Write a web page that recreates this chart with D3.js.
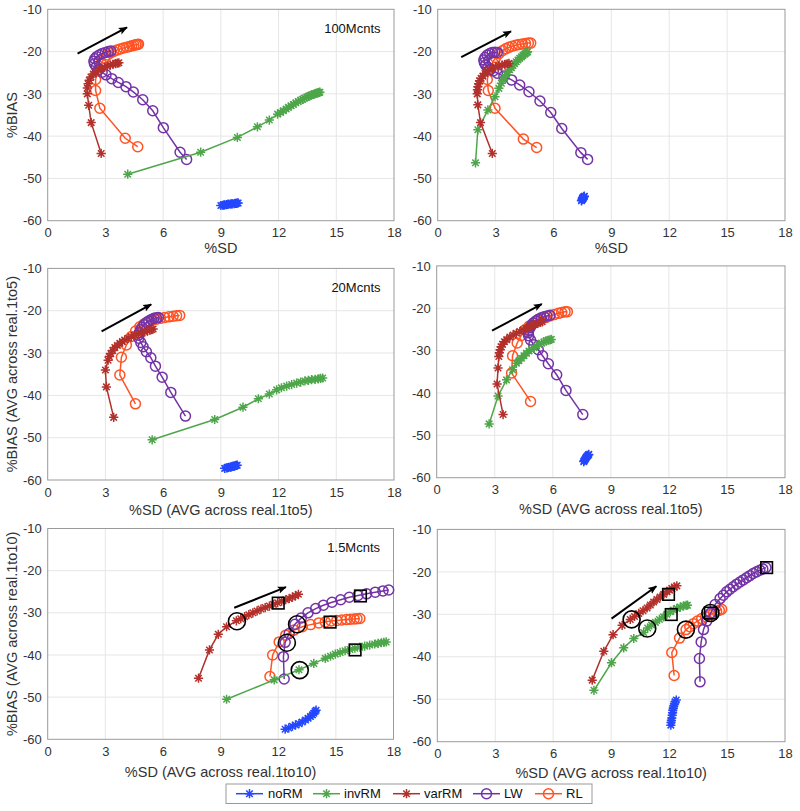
<!DOCTYPE html>
<html><head><meta charset="utf-8">
<script src="https://cdn.jsdelivr.net/npm/d3@7"></script>
<style>
body{margin:0;background:#fff}
text{font-family:"Liberation Sans",Arial,Helvetica,sans-serif}
</style>
</head><body>
<svg id="c" width="800" height="811"></svg>
<script>
// ---------------- DATA ----------------
const xTicks = [0, 3, 6, 9, 12, 15, 18];
const yTicks = [-60, -50, -40, -30, -20, -10];
const seriesNames = ["noRM", "invRM", "varRM", "LW", "RL"];
const panelTags = ["100Mcnts", "", "20Mcnts", "", "1.5Mcnts", ""];
const xLabels = ["%SD", "%SD", "%SD (AVG across real.1to5)", "%SD (AVG across real.1to5)", "%SD (AVG across real.1to10)", "%SD (AVG across real.1to10)"];
const yLabels = ["%BIAS", "", "%BIAS (AVG across real.1to5)", "", "%BIAS (AVG across real.1to10)", ""];

// Panel 1 (100Mcnts, left)
const p1NoRM = [[9.0,-56.4],[9.1,-56.35],[9.15,-56.3],[9.2,-56.25],[9.3,-56.2],[9.35,-56.15],[9.4,-56.1],[9.5,-56.05],[9.55,-56.0],[9.6,-56.0],[9.7,-55.95],[9.75,-55.9],[9.8,-55.9],[9.85,-55.85],[9.9,-55.8]];
const p1InvRM = [[4.16,-49.0],[7.95,-43.8],[9.86,-40.3],[10.9,-37.8],[11.52,-36.2],[11.95,-34.8],[12.1,-34.4],[12.25,-34.0],[12.4,-33.6],[12.51,-33.2],[12.65,-32.8],[12.77,-32.5],[12.9,-32.1],[13.02,-31.8],[13.15,-31.5],[13.25,-31.3],[13.35,-31.0],[13.46,-30.8],[13.55,-30.6],[13.63,-30.4],[13.72,-30.25],[13.81,-30.1],[13.88,-30.0],[13.95,-29.9],[14.01,-29.8],[14.07,-29.7],[14.11,-29.65],[14.15,-29.6]];
const p1VarRM = [[2.78,-44.1],[2.26,-36.8],[2.13,-32.7],[2.06,-30.0],[2.06,-28.6],[2.1,-27.6],[2.16,-26.8],[2.25,-26.0],[2.37,-25.3],[2.5,-24.8],[2.65,-24.4],[2.8,-24.0],[2.95,-23.7],[3.1,-23.45],[3.25,-23.2],[3.4,-23.0],[3.52,-22.85],[3.62,-22.75],[3.7,-22.65]];
const p1LW = [[7.22,-45.5],[6.88,-43.8],[6.01,-38.0],[5.46,-34.0],[4.94,-31.4],[4.45,-29.55],[4.07,-28.3],[3.67,-27.3],[3.33,-26.4],[3.03,-25.5],[2.83,-24.9],[2.65,-24.3],[2.52,-23.6],[2.43,-22.9],[2.4,-22.3],[2.45,-21.7],[2.55,-21.2],[2.68,-20.8],[2.83,-20.45],[3.0,-20.2],[3.15,-20.0],[3.28,-19.85]];
const p1RL = [[4.68,-42.5],[4.03,-40.5],[2.71,-33.4],[2.49,-29.2],[2.49,-26.6],[2.6,-24.6],[2.78,-22.8],[2.95,-21.6],[3.1,-20.8],[3.27,-20.3],[3.43,-19.95],[3.6,-19.65],[3.77,-19.4],[3.94,-19.15],[4.11,-18.95],[4.25,-18.8],[4.37,-18.65],[4.48,-18.5],[4.58,-18.4],[4.66,-18.3],[4.72,-18.25]];
const p1Arrow = [[1.55,-20.5],[4.12,-14.3]];

// Panel 2 (100Mcnts, right)
const p2NoRM = [[7.45,-55.3],[7.47,-55.1],[7.5,-54.95],[7.52,-54.8],[7.5,-54.7],[7.55,-54.6],[7.53,-54.5],[7.57,-54.4],[7.58,-54.3],[7.6,-54.2]];
const p2InvRM = [[1.96,-46.3],[2.08,-38.5],[2.6,-33.8],[2.97,-30.7],[3.17,-28.7],[3.3,-27.5],[3.38,-26.7],[3.47,-26.1],[3.55,-25.5],[3.64,-24.9],[3.73,-24.3],[3.82,-23.8],[3.9,-23.3],[3.98,-22.85],[4.07,-22.4],[4.16,-22.0],[4.25,-21.6],[4.34,-21.25],[4.42,-20.9],[4.5,-20.65],[4.56,-20.4],[4.62,-20.2],[4.66,-20.05]];
const p2VarRM = [[2.83,-44.1],[2.22,-36.8],[2.08,-32.6],[2.05,-30.0],[2.06,-29.0],[2.08,-28.3],[2.12,-27.6],[2.17,-26.9],[2.25,-26.3],[2.34,-25.8],[2.45,-25.2],[2.57,-24.7],[2.7,-24.3],[2.83,-23.9],[3.0,-23.6],[3.17,-23.4],[3.33,-23.2],[3.49,-23.0],[3.6,-22.9],[3.69,-22.8]];
const p2LW = [[7.77,-45.5],[7.42,-43.9],[6.43,-38.2],[5.86,-34.4],[5.3,-31.7],[4.73,-29.5],[4.25,-27.9],[3.83,-26.7],[3.43,-25.8],[3.09,-25.1],[2.88,-24.6],[2.74,-24.2],[2.6,-23.7],[2.48,-23.2],[2.42,-22.6],[2.39,-22.0],[2.45,-21.4],[2.57,-20.8],[2.7,-20.45],[2.83,-20.2],[2.96,-20.15],[3.09,-20.2]];
const p2RL = [[5.13,-42.7],[4.44,-40.7],[2.97,-33.4],[2.62,-29.2],[2.57,-26.6],[2.68,-24.4],[2.85,-22.6],[3.0,-21.4],[3.17,-20.5],[3.35,-19.8],[3.52,-19.35],[3.69,-19.0],[3.86,-18.75],[4.04,-18.5],[4.2,-18.35],[4.39,-18.2],[4.55,-18.1],[4.7,-18.0],[4.82,-18.0]];
const p2Arrow = [[1.22,-21.3],[3.8,-15.2]];

// Panel 3 (20Mcnts, left)
const p3NoRM = [[9.2,-57.25],[9.3,-57.15],[9.35,-57.1],[9.4,-57.0],[9.5,-56.95],[9.55,-56.9],[9.6,-56.8],[9.65,-56.75],[9.7,-56.7],[9.75,-56.6],[9.8,-56.55],[9.85,-56.5]];
const p3InvRM = [[5.43,-50.5],[8.68,-45.7],[10.15,-42.8],[10.95,-40.8],[11.52,-39.7],[11.9,-38.7],[12.15,-38.2],[12.42,-37.8],[12.68,-37.45],[12.94,-37.1],[13.15,-36.85],[13.37,-36.6],[13.55,-36.45],[13.72,-36.3],[13.9,-36.2],[14.06,-36.1],[14.18,-36.0],[14.29,-35.9]];
const p3VarRM = [[3.43,-45.2],[3.05,-38.0],[3.0,-34.0],[3.14,-31.7],[3.2,-30.8],[3.28,-30.1],[3.38,-29.4],[3.49,-28.7],[3.62,-28.2],[3.75,-27.7],[3.88,-27.3],[4.0,-26.9],[4.18,-26.5],[4.35,-26.1],[4.52,-25.8],[4.7,-25.5],[4.88,-25.25],[5.05,-25.0],[5.18,-24.8],[5.3,-24.6],[5.4,-24.45],[5.48,-24.3]];
const p3LW = [[7.16,-44.9],[6.4,-39.3],[5.95,-35.7],[5.6,-33.1],[5.36,-31.1],[5.13,-29.7],[4.96,-28.5],[4.84,-27.5],[4.73,-26.5],[4.72,-25.8],[4.76,-25.2],[4.83,-24.5],[4.91,-23.9],[5.02,-23.3],[5.13,-22.8],[5.26,-22.4],[5.39,-22.05],[5.52,-21.8],[5.65,-21.65],[5.75,-21.6]];
const p3RL = [[4.56,-42.0],[3.75,-35.2],[3.83,-31.0],[4.09,-28.1],[4.35,-26.1],[4.57,-24.8],[4.79,-23.8],[5.0,-23.15],[5.22,-22.6],[5.43,-22.25],[5.65,-22.0],[5.86,-21.8],[6.08,-21.6],[6.3,-21.45],[6.52,-21.3],[6.7,-21.2],[6.86,-21.1]];
const p3Arrow = [[2.8,-24.9],[5.38,-18.5]];

// Panel 4 (20Mcnts, right)
const p4NoRM = [[7.6,-56.2],[7.62,-56.0],[7.65,-55.8],[7.68,-55.6],[7.7,-55.4],[7.73,-55.2],[7.76,-55.0],[7.8,-54.8],[7.83,-54.65],[7.86,-54.5]];
const p4InvRM = [[2.71,-47.3],[3.17,-40.7],[3.61,-36.9],[3.92,-34.5],[4.12,-33.0],[4.25,-32.4],[4.38,-31.8],[4.51,-31.2],[4.64,-30.6],[4.77,-30.1],[4.9,-29.7],[5.03,-29.3],[5.16,-28.9],[5.29,-28.55],[5.42,-28.2],[5.54,-27.95],[5.65,-27.7],[5.76,-27.55],[5.85,-27.45],[5.92,-27.35]];
const p4VarRM = [[3.43,-45.1],[3.12,-37.9],[3.17,-34.1],[3.21,-31.4],[3.24,-30.5],[3.28,-29.8],[3.33,-29.1],[3.4,-28.5],[3.5,-27.9],[3.62,-27.4],[3.78,-26.8],[3.95,-26.3],[4.12,-25.9],[4.3,-25.5],[4.47,-25.1],[4.65,-24.7],[4.82,-24.3],[4.95,-24.05],[5.08,-23.8],[5.22,-23.55],[5.34,-23.35],[5.45,-23.2]];
const p4LW = [[7.55,-45.1],[6.68,-39.4],[6.2,-35.7],[5.77,-33.1],[5.47,-31.2],[5.25,-29.8],[5.02,-28.6],[4.85,-27.5],[4.75,-26.5],[4.73,-25.8],[4.76,-25.2],[4.82,-24.6],[4.9,-24.0],[5.0,-23.5],[5.12,-23.0],[5.25,-22.6],[5.4,-22.25],[5.55,-22.0],[5.7,-21.8],[5.85,-21.65]];
const p4RL = [[4.85,-42.0],[3.87,-35.3],[3.92,-31.2],[4.16,-28.2],[4.36,-26.5],[4.56,-25.1],[4.78,-24.2],[4.99,-23.5],[5.2,-23.0],[5.42,-22.6],[5.63,-22.2],[5.85,-21.8],[6.07,-21.5],[6.29,-21.2],[6.46,-21.0],[6.63,-20.85],[6.75,-20.8]];
const p4Arrow = [[2.86,-25.3],[5.43,-19.0]];

// Panel 5 (1.5Mcnts, left)
const p5NoRM = [[12.36,-57.6],[12.55,-57.3],[12.74,-56.9],[12.9,-56.6],[13.08,-56.3],[13.25,-55.9],[13.42,-55.4],[13.55,-55.0],[13.68,-54.6],[13.78,-54.2],[13.85,-53.8],[13.92,-53.4],[13.97,-53.1]];
const p5InvRM = [[9.31,-50.5],[11.79,-45.9],[13.08,-43.5],[13.85,-42.0],[14.45,-40.8],[14.72,-40.3],[14.97,-39.8],[15.22,-39.4],[15.48,-39.0],[15.73,-38.7],[15.99,-38.4],[16.25,-38.15],[16.5,-37.9],[16.76,-37.65],[17.02,-37.4],[17.2,-37.25],[17.37,-37.1],[17.5,-37.0],[17.62,-36.9]];
const p5VarRM = [[7.85,-45.5],[8.42,-38.8],[8.88,-35.1],[9.31,-33.3],[9.82,-31.9],[10.05,-31.4],[10.25,-30.9],[10.47,-30.45],[10.68,-30.0],[10.9,-29.55],[11.1,-29.1],[11.32,-28.75],[11.54,-28.4],[11.75,-28.0],[11.97,-27.6],[12.18,-27.25],[12.39,-26.9],[12.57,-26.6],[12.74,-26.3],[12.9,-25.95],[13.05,-25.6]];
const p5LW = [[12.31,-45.7],[12.27,-40.4],[12.36,-37.0],[12.57,-34.9],[12.87,-32.7],[13.2,-31.2],[13.55,-30.0],[13.95,-29.0],[14.35,-28.2],[14.8,-27.5],[15.25,-26.9],[15.7,-26.3],[16.15,-25.9],[16.6,-25.5],[17.05,-25.1],[17.45,-24.8],[17.75,-24.6]];
const p5RL = [[11.57,-45.1],[11.71,-40.0],[12.05,-36.9],[12.39,-35.3],[12.82,-34.1],[13.25,-33.3],[13.68,-32.8],[14.11,-32.4],[14.45,-32.15],[14.75,-31.95],[15.05,-31.8],[15.3,-31.7],[15.55,-31.6],[15.75,-31.5],[15.95,-31.45],[16.1,-31.4],[16.25,-31.35]];
const p5Arrow = [[9.71,-28.8],[12.4,-23.9]];
const p5Squares = [[12.0,-27.7],[16.28,-26.0],[14.7,-32.2],[16.0,-38.8]];
const p5Circles = [[9.85,-32.0],[12.98,-32.7],[12.45,-37.1],[13.12,-43.6]];

// Panel 6 (1.5Mcnts, right)
const p6NoRM = [[12.09,-56.1],[12.1,-55.5],[12.12,-55.0],[12.14,-54.4],[12.16,-53.8],[12.18,-53.2],[12.19,-52.6],[12.22,-52.1],[12.24,-51.6],[12.28,-51.1],[12.31,-50.6],[12.37,-50.2]];
const p6InvRM = [[8.11,-47.9],[9.02,-41.4],[9.65,-37.9],[10.17,-35.7],[10.68,-34.3],[10.89,-33.2],[11.09,-32.5],[11.29,-31.9],[11.5,-31.2],[11.71,-30.6],[11.88,-30.0],[12.06,-29.4],[12.23,-29.0],[12.4,-28.6],[12.58,-28.3],[12.75,-28.0],[12.88,-27.9],[12.95,-27.85]];
const p6VarRM = [[8.02,-45.5],[8.62,-38.7],[9.1,-34.8],[9.57,-32.6],[9.99,-31.2],[10.21,-30.5],[10.43,-29.8],[10.65,-29.15],[10.86,-28.5],[11.03,-27.8],[11.2,-27.1],[11.37,-26.5],[11.54,-25.9],[11.72,-25.3],[11.89,-24.7],[12.02,-24.3],[12.14,-23.9],[12.27,-23.6],[12.4,-23.3]];
const p6LW = [[13.6,-45.9],[13.57,-40.4],[13.66,-36.5],[13.78,-33.6],[13.95,-31.6],[14.15,-29.7],[14.38,-27.7],[14.64,-26.3],[14.81,-25.5],[14.98,-24.7],[15.15,-24.1],[15.32,-23.5],[15.5,-22.9],[15.67,-22.4],[15.84,-21.9],[16.01,-21.4],[16.18,-20.9],[16.35,-20.4],[16.52,-20.0],[16.7,-19.6],[16.85,-19.3],[17.01,-19.0]];
const p6RL = [[12.26,-44.4],[12.14,-39.0],[12.54,-35.6],[12.88,-33.6],[13.07,-32.9],[13.26,-32.2],[13.47,-31.6],[13.69,-31.0],[13.9,-30.55],[14.12,-30.1],[14.3,-29.7],[14.46,-29.3],[14.6,-29.05],[14.72,-28.8]];
const p6Arrow = [[9.02,-31.0],[11.34,-23.4]];
const p6Squares = [[11.97,-25.3],[12.11,-30.05],[14.14,-29.7],[17.05,-19.0]];
const p6Circles = [[10.06,-31.2],[10.87,-33.35],[12.87,-33.6],[14.14,-29.7]];

// ---------------- BUILD ----------------
const panelData = [
  {series:{noRM:p1NoRM, invRM:p1InvRM, varRM:p1VarRM, LW:p1LW, RL:p1RL}, arrow:p1Arrow, squares:[], circles:[]},
  {series:{noRM:p2NoRM, invRM:p2InvRM, varRM:p2VarRM, LW:p2LW, RL:p2RL}, arrow:p2Arrow, squares:[], circles:[]},
  {series:{noRM:p3NoRM, invRM:p3InvRM, varRM:p3VarRM, LW:p3LW, RL:p3RL}, arrow:p3Arrow, squares:[], circles:[]},
  {series:{noRM:p4NoRM, invRM:p4InvRM, varRM:p4VarRM, LW:p4LW, RL:p4RL}, arrow:p4Arrow, squares:[], circles:[]},
  {series:{noRM:p5NoRM, invRM:p5InvRM, varRM:p5VarRM, LW:p5LW, RL:p5RL}, arrow:p5Arrow, squares:p5Squares, circles:p5Circles},
  {series:{noRM:p6NoRM, invRM:p6InvRM, varRM:p6VarRM, LW:p6LW, RL:p6RL}, arrow:p6Arrow, squares:p6Squares, circles:p6Circles}
];

const layout = [
  {l:47.7, r:394,   t:9.3,   b:220.7, xl:253},
  {l:437.7,r:785,   t:9.3,   b:220.7, xl:253},
  {l:47.7, r:394,   t:268.4, b:480,   xl:515},
  {l:436.7,r:785,   t:265.9, b:477.7, xl:514},
  {l:47.7, r:393.5, t:528.5, b:739.3, xl:777},
  {l:437.3,r:785,   t:529.4, b:741.7, xl:777.5}
];

const style = {
  noRM:  {color:"#2447ff", marker:"star"},
  invRM: {color:"#4ea64a", marker:"star"},
  varRM: {color:"#b2302b", marker:"star"},
  LW:    {color:"#7333a6", marker:"circle"},
  RL:    {color:"#ff5324", marker:"circle"}
};
const drawOrder = ["RL","LW","noRM","invRM","varRM"];

const svg = d3.select("#c");
svg.append("rect").attr("width",800).attr("height",811).attr("fill","#fff");

const defs = svg.append("defs");
defs.append("marker").attr("id","ah").attr("viewBox","0 0 10 10")
  .attr("refX",9).attr("refY",5).attr("markerWidth",4.5).attr("markerHeight",4.5)
  .attr("orient","auto").attr("markerUnits","strokeWidth")
  .append("path").attr("d","M0,1 L10,5 L0,9 L2,5 z").attr("fill","#000");

const starPath = "M-4.6,0H4.6M0,-4.6V4.6M-3.25,-3.25L3.25,3.25M-3.25,3.25L3.25,-3.25";

function drawMarker(g, kind, color, x, y) {
  if (kind === "star") {
    g.append("path").attr("d", starPath).attr("transform", `translate(${x},${y})`)
      .attr("stroke", color).attr("stroke-width", 1.5).attr("fill", "none");
  } else {
    g.append("circle").attr("cx", x).attr("cy", y).attr("r", 5)
      .attr("stroke", color).attr("stroke-width", 1.5).attr("fill", "none");
  }
}

panelData.forEach((pd, i) => {
  const L = layout[i];
  const x = d3.scaleLinear().domain([0, 18]).range([L.l, L.r]);
  const y = d3.scaleLinear().domain([-60, -10]).range([L.b, L.t]);
  const g = svg.append("g");

  // grid
  g.selectAll(".gx").data(xTicks.slice(1, -1)).enter().append("line")
    .attr("x1", d => x(d)).attr("x2", d => x(d)).attr("y1", L.t).attr("y2", L.b)
    .attr("stroke", "#e6e6e6").attr("stroke-width", 1);
  g.selectAll(".gy").data(yTicks.slice(1, -1)).enter().append("line")
    .attr("y1", d => y(d)).attr("y2", d => y(d)).attr("x1", L.l).attr("x2", L.r)
    .attr("stroke", "#e6e6e6").attr("stroke-width", 1);

  // axes via d3
  const ax = g.append("g").attr("transform", `translate(0,${L.b})`)
    .call(d3.axisBottom(x).tickValues(xTicks).tickSize(0).tickPadding(7).tickFormat(d3.format("d")));
  const ay = g.append("g").attr("transform", `translate(${L.l},0)`)
    .call(d3.axisLeft(y).tickValues(yTicks).tickSize(0).tickPadding(6).tickFormat(d => d));
  [ax, ay].forEach(a => {
    a.select(".domain").remove();
    a.selectAll("text").attr("font-size", 13).attr("fill", "#333")
      .attr("font-family", '"Liberation Sans", Arial, sans-serif');
  });
  ax.selectAll("text").attr("dy", null).attr("y", 16.8);

  // box
  g.append("rect").attr("x", L.l).attr("y", L.t).attr("width", L.r - L.l).attr("height", L.b - L.t)
    .attr("fill", "none").attr("stroke", "#9a9a9a").attr("stroke-width", 1);

  // labels
  g.append("text").attr("x", (L.l + L.r) / 2).attr("y", L.xl).attr("text-anchor", "middle")
    .attr("font-size", 14.5).attr("fill", "#333").text(xLabels[i]);
  if (yLabels[i]) {
    g.append("text").attr("transform", `translate(17,${(L.t + L.b) / 2}) rotate(-90)`)
      .attr("text-anchor", "middle").attr("font-size", 14.5).attr("fill", "#333").text(yLabels[i]);
  }
  if (panelTags[i]) {
    g.append("text").attr("x", x(17.3)).attr("y", y(-15.6)).attr("text-anchor", "end")
      .attr("font-size", 13).attr("fill", "#111").text(panelTags[i]);
  }

  // series
  const line = d3.line().x(d => x(d[0])).y(d => y(d[1]));
  drawOrder.forEach(name => {
    const data = pd.series[name];
    const st = style[name];
    const sg = g.append("g");
    sg.append("path").attr("d", line(data)).attr("fill", "none")
      .attr("stroke", st.color).attr("stroke-width", 1.5);
    data.forEach(d => drawMarker(sg, st.marker, st.color, x(d[0]), y(d[1])));
  });

  // annotations
  pd.circles.forEach(d => g.append("circle").attr("cx", x(d[0])).attr("cy", y(d[1])).attr("r", 8.5)
    .attr("fill", "none").attr("stroke", "#000").attr("stroke-width", 1.6));
  pd.squares.forEach(d => g.append("rect").attr("x", x(d[0]) - 5.8).attr("y", y(d[1]) - 5.8)
    .attr("width", 11.6).attr("height", 11.6)
    .attr("fill", "none").attr("stroke", "#000").attr("stroke-width", 1.6));
  g.append("line").attr("x1", x(pd.arrow[0][0])).attr("y1", y(pd.arrow[0][1]))
    .attr("x2", x(pd.arrow[1][0])).attr("y2", y(pd.arrow[1][1]))
    .attr("stroke", "#000").attr("stroke-width", 2).attr("marker-end", "url(#ah)");
});

// legend
const lg = svg.append("g");
lg.append("rect").attr("x", 226).attr("y", 784).attr("width", 366).attr("height", 19.5)
  .attr("fill", "#fff").attr("stroke", "#9a9a9a").attr("stroke-width", 1);
const legX = [236, 313, 393, 473, 535];
const legTextX = [268, 344, 424, 504, 566];
seriesNames.forEach((n, k) => {
  const st = style[n];
  const cy = 793.7;
  lg.append("line").attr("x1", legX[k]).attr("x2", legX[k] + 27).attr("y1", cy).attr("y2", cy)
    .attr("stroke", st.color).attr("stroke-width", 1.5);
  drawMarker(lg, st.marker, st.color, legX[k] + 13.5, cy);
  lg.append("text").attr("x", legTextX[k]).attr("y", 798.4).attr("font-size", 13)
    .attr("fill", "#111").text(n);
});
</script>
</body></html>
